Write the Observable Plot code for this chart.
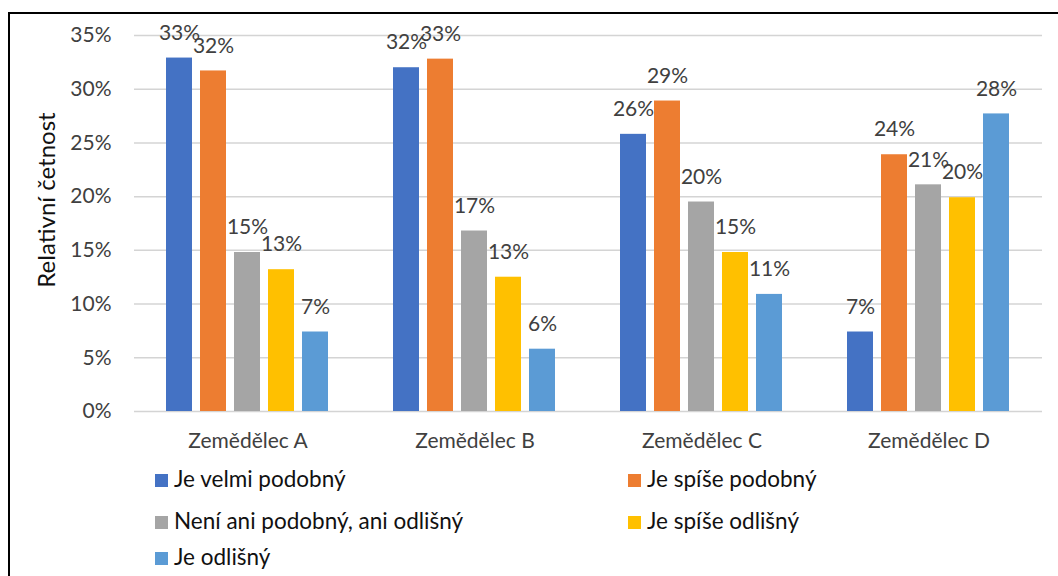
<!DOCTYPE html>
<html>
<head>
<meta charset="utf-8">
<script src="https://cdn.jsdelivr.net/npm/d3@7"></script>
<script src="https://cdn.jsdelivr.net/npm/@observablehq/plot@0.6"></script>
<style>
  html, body { margin: 0; padding: 0; background: #fff; width: 1058px; height: 576px; overflow: hidden; }
  body { font-family: Lato, "Open Sans", sans-serif; color: #404040; }
  #frame { position: absolute; left: 8px; top: 12px; width: 1100px; height: 620px; border: 2px solid #000; box-sizing: border-box; }
  #chart { position: absolute; left: 10px; top: 14px; }
  #ylab { position: absolute; left: 45px; top: 200px; transform: translate(-50%, -50%) rotate(-90deg); font-size: 24px; color: #111; white-space: nowrap; }
  .leg { position: absolute; font-size: 22.5px; color: #111; white-space: nowrap; line-height: 1; }
  .leg span.sw { display: inline-block; width: 13px; height: 13px; margin-right: 6px; vertical-align: 0px; }
</style>
</head>
<body>
<div id="frame"></div>
<div id="chart"></div>
<div id="ylab">Relativní četnost</div>
<div id="legend"></div>
<script>
const farmers = ["Zemědělec A", "Zemědělec B", "Zemědělec C", "Zemědělec D"];
const categories = ["Je velmi podobný", "Je spíše podobný", "Není ani podobný, ani odlišný", "Je spíše odlišný", "Je odlišný"];
const colors = ["#4472C4", "#ED7D31", "#A5A5A5", "#FFC000", "#5B9BD5"];
const veryAlike = [32.9, 32.0, 25.8, 7.4];
const ratherAlike = [31.7, 32.8, 28.9, 23.9];
const neither = [14.8, 16.8, 19.5, 21.1];
const ratherDifferent = [13.2, 12.5, 14.8, 19.9];
const different = [7.4, 5.8, 10.9, 27.7];
const yTicks = [0, 5, 10, 15, 20, 25, 30, 35];

const series = [veryAlike, ratherAlike, neither, ratherDifferent, different];
const data = [];
farmers.forEach((f, i) => {
  categories.forEach((c, j) => {
    data.push({farmer: f, cat: c, value: series[j][i]});
  });
});

const chart = Plot.plot({
  width: 1038,
  height: 450,
  marginLeft: 123,
  marginRight: 5,
  marginTop: 21,
  marginBottom: 53,
  style: {fontFamily: "Lato, 'Open Sans', sans-serif", fontSize: "21px", color: "#404040", background: "transparent"},
  fx: {domain: farmers, padding: 0, label: null},
  x: {domain: categories, paddingInner: 0.23, paddingOuter: 0.86, axis: null},
  y: {domain: [0, 35], label: null},
  color: {domain: categories, range: colors},
  marks: [
    Plot.gridY(yTicks, {stroke: "#d4d4d4", strokeOpacity: 1, strokeWidth: 1.5}),
    Plot.axisY(yTicks, {tickSize: 0, tickPadding: 23, tickFormat: d => d + "%", label: null, fill: "#404040"}),
    Plot.axisFx({anchor: "bottom", tickSize: 0, tickPadding: 22, label: null, fill: "#404040"}),
    Plot.barY(data, {fx: "farmer", x: "cat", y: "value", fill: "cat"}),
    Plot.text(data, {fx: "farmer", x: "cat", y: "value", text: d => Math.round(d.value) + "%", dy: -25, fill: "#404040", fontSize: 21})
  ]
});
document.getElementById("chart").appendChild(chart);

// legend
const legendPos = [
  {left: 155, top: 480}, {left: 628, top: 480},
  {left: 155, top: 522}, {left: 628, top: 522},
  {left: 155, top: 558}
];
const leg = document.getElementById("legend");
categories.forEach((c, i) => {
  const d = document.createElement("div");
  d.className = "leg";
  d.style.left = legendPos[i].left + "px";
  d.style.top = (legendPos[i].top - 12) + "px";
  d.innerHTML = `<span class="sw" style="background:${colors[i]}"></span>${c}`;
  leg.appendChild(d);
});
</script>
</body>
</html>
